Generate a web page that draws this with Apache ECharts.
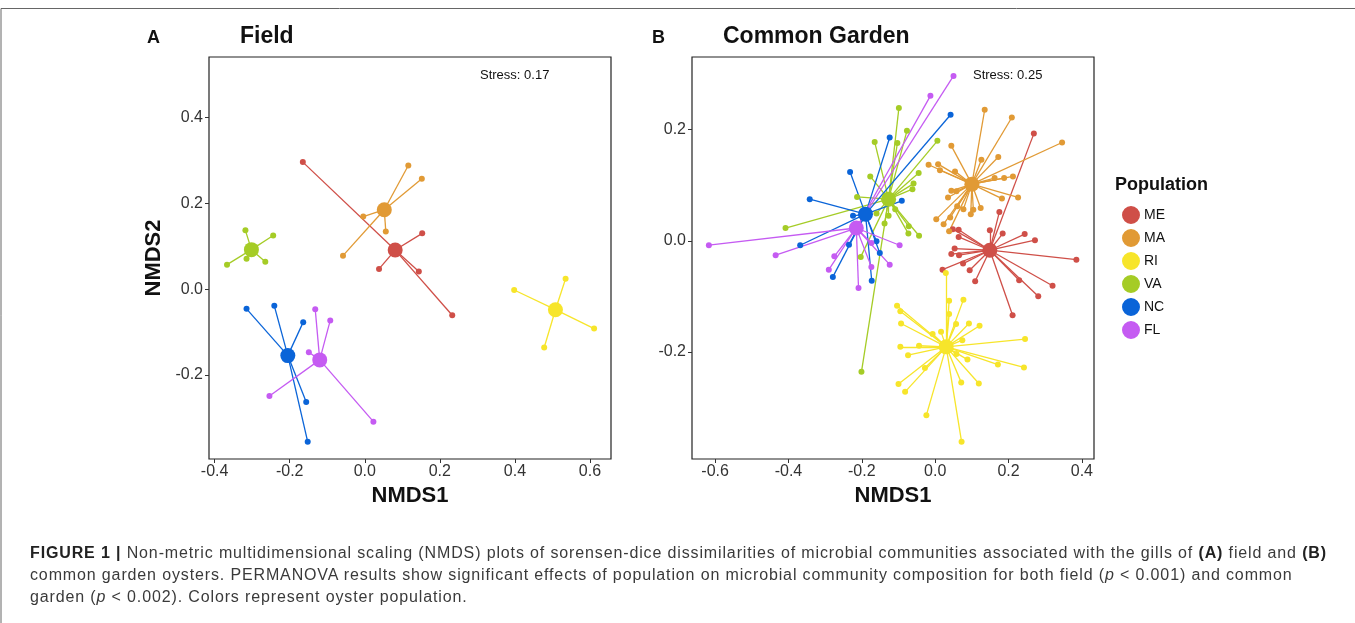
<!DOCTYPE html>
<html>
<head>
<meta charset="utf-8">
<script src="https://cdn.jsdelivr.net/npm/echarts@6/dist/echarts.min.js"></script>
<style>
* { margin: 0; padding: 0; }
body { width: 1355px; height: 623px; background: #fff; overflow: hidden; position: relative; }
#chart { position: absolute; left: 0; top: 0; width: 1355px; height: 623px; }
#caption {
  position: absolute; left: 30px; top: 542px;
  font-family: "Liberation Sans", Arial, sans-serif;
  font-size: 16px; line-height: 22px; color: #3a3a3a; white-space: nowrap;
}
#caption b { color: #222; }
</style>
</head>
<body>
<div id="chart"></div>
<div id="caption">
<span id="line1"><b>FIGURE 1 |</b> Non-metric multidimensional scaling (NMDS) plots of sorensen-dice dissimilarities of microbial communities associated with the gills of <b>(A)</b> field and <b>(B)</b></span><br>
common garden oysters. PERMANOVA results show significant effects of population on microbial community composition for both field (<i>p</i> &lt; 0.001) and common<br>
garden (<i>p</i> &lt; 0.002). Colors represent oyster population.
</div>
<script>
// populations and colours
const populations = ['ME', 'MA', 'RI', 'VA', 'NC', 'FL']
const colors = ['#cf4f48', '#e19a35', '#f7e52a', '#a5cc26', '#0a64d8', '#c55bf2']

// axis ticks
const xTicksA = [-0.4, -0.2, 0, 0.2, 0.4, 0.6]
const yTicksA = [-0.2, 0, 0.2, 0.4]
const xTicksB = [-0.6, -0.4, -0.2, 0, 0.2, 0.4]
const yTicksB = [-0.2, 0, 0.2]

// (A) field: centroids in population order
const fieldCentroids = [[0.081, 0.091], [0.052, 0.185], [0.508, -0.048], [-0.302, 0.092], [-0.205, -0.155], [-0.120, -0.165]]
const fieldME = [[-0.165, 0.296], [0.153, 0.130], [0.038, 0.047], [0.144, 0.041], [0.233, -0.061]]
const fieldMA = [[0.116, 0.288], [0.152, 0.257], [-0.004, 0.169], [0.056, 0.134], [-0.058, 0.078]]
const fieldRI = [[0.398, -0.002], [0.535, 0.024], [0.611, -0.092], [0.478, -0.136]]
const fieldVA = [[-0.318, 0.137], [-0.244, 0.125], [-0.367, 0.057], [-0.315, 0.071], [-0.265, 0.064]]
const fieldNC = [[-0.315, -0.046], [-0.241, -0.039], [-0.164, -0.077], [-0.156, -0.263], [-0.152, -0.356]]
const fieldFL = [[-0.132, -0.047], [-0.092, -0.073], [-0.149, -0.147], [-0.254, -0.249], [0.023, -0.309]]

// (B) common garden
const gardenCentroids = [[0.149, -0.017], [0.100, 0.102], [0.030, -0.191], [-0.127, 0.075], [-0.190, 0.048], [-0.215, 0.023]]
const gardenME = [[0.269, 0.193], [0.175, 0.052], [0.149, 0.019], [0.184, 0.013], [0.244, 0.012], [0.272, 0.001],
  [0.385, -0.034], [0.048, 0.021], [0.064, 0.020], [0.064, 0.007], [0.053, -0.014], [0.044, -0.024], [0.065, -0.026],
  [0.076, -0.041], [0.094, -0.053], [0.020, -0.052], [0.109, -0.073], [0.229, -0.071], [0.320, -0.081], [0.281, -0.100], [0.211, -0.134]]
const gardenMA = [[0.135, 0.236], [0.209, 0.222], [0.346, 0.177], [0.044, 0.171], [0.126, 0.146], [0.172, 0.151],
  [-0.018, 0.137], [0.008, 0.138], [0.013, 0.127], [0.054, 0.125], [0.162, 0.113], [0.188, 0.113], [0.212, 0.116],
  [0.182, 0.076], [0.226, 0.078], [0.044, 0.090], [0.058, 0.089], [0.035, 0.078], [0.060, 0.062], [0.077, 0.057],
  [0.104, 0.056], [0.124, 0.059], [0.097, 0.048], [0.003, 0.039], [0.023, 0.030], [0.041, 0.042], [0.038, 0.017]]
const gardenRI = [[0.029, -0.058], [0.038, -0.108], [0.077, -0.106], [0.038, -0.132], [-0.104, -0.117], [-0.095, -0.127],
  [-0.093, -0.149], [-0.007, -0.168], [0.016, -0.164], [0.057, -0.150], [0.092, -0.149], [0.121, -0.153], [0.074, -0.179],
  [0.245, -0.177], [-0.095, -0.191], [-0.044, -0.189], [-0.074, -0.206], [0.058, -0.204], [0.088, -0.214], [0.171, -0.223],
  [0.242, -0.228], [-0.028, -0.229], [-0.100, -0.258], [-0.082, -0.272], [0.071, -0.255], [0.119, -0.257], [-0.024, -0.314], [0.072, -0.362]]
const gardenVA = [[-0.099, 0.239], [-0.077, 0.198], [0.006, 0.180], [-0.165, 0.178], [-0.103, 0.176], [-0.177, 0.116],
  [-0.045, 0.122], [-0.059, 0.103], [-0.062, 0.093], [-0.213, 0.079], [-0.408, 0.023], [-0.138, 0.031], [-0.127, 0.045],
  [-0.109, 0.057], [-0.072, 0.026], [-0.073, 0.013], [-0.044, 0.009], [-0.203, -0.029], [-0.160, 0.049], [-0.201, -0.236]]
const gardenNC = [[0.042, 0.227], [-0.124, 0.186], [-0.232, 0.124], [-0.342, 0.075], [-0.091, 0.072], [-0.224, 0.045],
  [-0.368, -0.008], [-0.235, -0.007], [-0.160, -0.001], [-0.151, -0.022], [-0.279, -0.065], [-0.173, -0.072]]
const gardenFL = [[0.050, 0.297], [-0.013, 0.261], [-0.617, -0.008], [-0.435, -0.026], [-0.275, -0.028], [-0.290, -0.052],
  [-0.209, -0.085], [-0.174, -0.047], [-0.124, -0.043], [-0.097, -0.008], [-0.174, -0.004]]

const fieldGroups = [fieldME, fieldMA, fieldRI, fieldVA, fieldNC, fieldFL]
const gardenGroups = [gardenME, gardenMA, gardenRI, gardenVA, gardenNC, gardenFL]

const font = '"Liberation Sans", Arial, sans-serif'

const makeAxis = (gridIndex, min, max, ticks, isX) => ({
  type: 'value',
  gridIndex: gridIndex,
  min: min,
  max: max,
  splitLine: { show: false },
  axisLine: { show: false, onZero: false },
  axisTick: { show: true, inside: false, length: 4, customValues: ticks, lineStyle: { color: '#333', width: 1 } },
  axisLabel: {
    customValues: ticks,
    margin: isX ? 5 : 6,
    color: '#333',
    fontSize: 16,
    fontFamily: font,
    formatter: (v) => v.toFixed(1)
  }
})

const series = []
const addPanel = (idx, centroids, groups) => {
  // segments first, then points, then centroids
  groups.forEach((pts, i) => {
    series.push({
      name: populations[i],
      type: 'lines',
      coordinateSystem: 'cartesian2d',
      xAxisIndex: idx,
      yAxisIndex: idx,
      silent: true,
      z: 2,
      lineStyle: { color: colors[i], width: 1.3, opacity: 1 },
      data: pts.map(p => ({ coords: [centroids[i], p] }))
    })
  })
  groups.forEach((pts, i) => {
    series.push({
      name: populations[i],
      type: 'scatter',
      xAxisIndex: idx,
      yAxisIndex: idx,
      symbolSize: 6,
      z: 3,
      itemStyle: { color: colors[i], opacity: 1 },
      data: pts
    })
  })
  centroids.forEach((c, i) => {
    series.push({
      name: populations[i],
      type: 'scatter',
      xAxisIndex: idx,
      yAxisIndex: idx,
      symbolSize: 15,
      z: 4,
      itemStyle: { color: colors[i], opacity: 1 },
      data: [c]
    })
  })
}
addPanel(0, fieldCentroids, fieldGroups)
addPanel(1, gardenCentroids, gardenGroups)

const chart = echarts.init(document.getElementById('chart'), null, { renderer: 'canvas' })

const nameStyle = { fontSize: 22, fontWeight: 'bold', color: '#111', fontFamily: font }
const xA = makeAxis(0, -0.415, 0.656, xTicksA, true)
Object.assign(xA, { name: 'NMDS1', nameLocation: 'middle', nameGap: 26, nameTextStyle: nameStyle })
const yA = makeAxis(0, -0.396, 0.541, yTicksA, false)
Object.assign(yA, { name: 'NMDS2', nameLocation: 'middle', nameRotate: 90, nameGap: 44, nameTextStyle: nameStyle })
const xB = makeAxis(1, -0.663, 0.433, xTicksB, true)
Object.assign(xB, { name: 'NMDS1', nameLocation: 'middle', nameGap: 26, nameTextStyle: nameStyle })
const yB = makeAxis(1, -0.393, 0.331, yTicksB, false)

const option = {
  animation: false,
  grid: [
    { left: 209, top: 57, width: 402, height: 402, show: true, borderColor: '#222', borderWidth: 1.2, backgroundColor: 'transparent' },
    { left: 692, top: 57, width: 402, height: 402, show: true, borderColor: '#222', borderWidth: 1.2, backgroundColor: 'transparent' }
  ],
  xAxis: [xA, xB],
  yAxis: [yA, yB],
  legend: {
    data: populations,
    orient: 'vertical',
    left: 1117,
    top: 201,
    icon: 'circle',
    itemWidth: 16,
    itemHeight: 16,
    itemGap: 5,
    textStyle: { fontSize: 14, color: '#111', fontFamily: font }
  },
  graphic: [
    { type: 'polyline', shape: { points: [[1, 623], [1, 8.5], [1355, 8.5]] }, style: { stroke: '#666', lineWidth: 1, fill: null } },
    { type: 'text', left: 147, top: 29, style: { text: 'A', font: 'bold 18px ' + font, fill: '#111' } },
    { type: 'text', left: 240, top: 25, style: { text: 'Field', font: 'bold 23px ' + font, fill: '#111' } },
    { type: 'text', left: 652, top: 29, style: { text: 'B', font: 'bold 18px ' + font, fill: '#111' } },
    { type: 'text', left: 723, top: 25, style: { text: 'Common Garden', font: 'bold 23px ' + font, fill: '#111' } },
    { type: 'text', left: 480, top: 69, style: { text: 'Stress: 0.17', font: '13px ' + font, fill: '#111' } },
    { type: 'text', left: 973, top: 69, style: { text: 'Stress: 0.25', font: '13px ' + font, fill: '#111' } },
    { type: 'text', left: 1115, top: 176, style: { text: 'Population', font: 'bold 18px ' + font, fill: '#111' } }
  ],
  series: series
}

chart.setOption(option)

// spread the caption letters so the first line spans the same width as in the figure
const cap = document.getElementById('caption')
const line1 = document.getElementById('line1')
const w = line1.getBoundingClientRect().width
const n = line1.textContent.length
if (w > 0 && n > 0) {
  cap.style.letterSpacing = ((1297 - w) / n).toFixed(3) + 'px'
}
</script>
</body>
</html>
